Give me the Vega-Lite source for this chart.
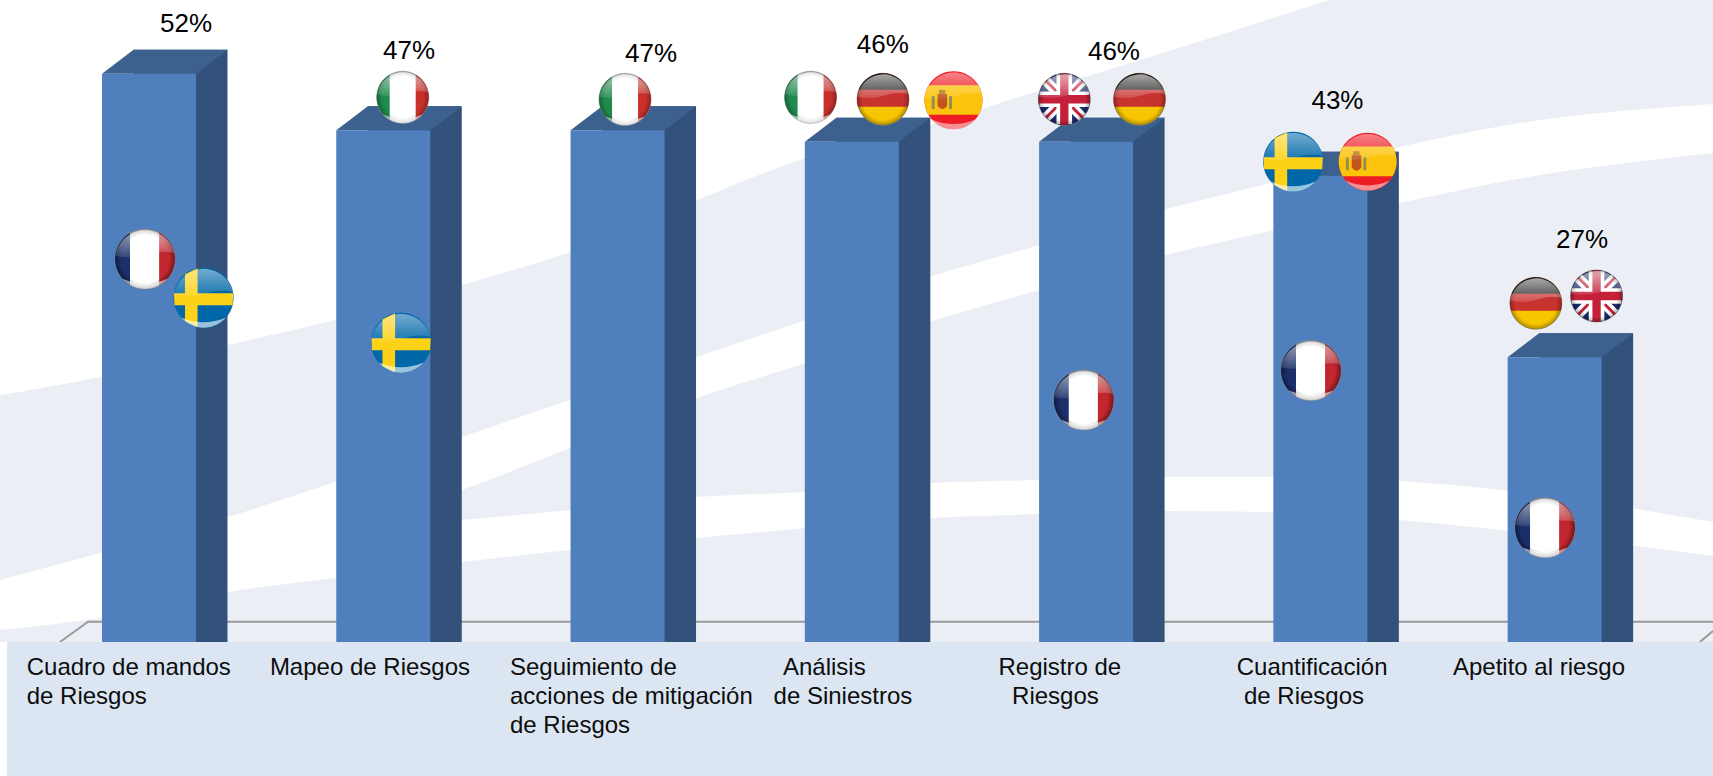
{
"$schema":"https://vega.github.io/schema/vega-lite/v6.json",
"width":1713,"height":776,"padding":0,"autosize":{"type":"none"},
"background":"#ffffff",
"config":{"view":{"stroke":null}},
"datasets":{
"panels":[{"p":"base","x":0.364,"x2":7.676,"y":1.9,"y2":58.49},{"p":"axis","x":0.394,"x2":7.676,"y":-9.91,"y2":1.9}],
"bars":[{"cat":"Cuadro de mandos de Riesgos","i":1,"pct":52},{"cat":"Mapeo de Riesgos","i":2,"pct":47},{"cat":"Seguimiento de acciones de mitigación de Riesgos","i":3,"pct":47},{"cat":"Análisis de Siniestros","i":4,"pct":46},{"cat":"Registro de Riesgos","i":5,"pct":46},{"cat":"Cuantificación de Riesgos","i":6,"pct":43},{"cat":"Apetito al riesgo","i":7,"pct":27}],
"values":[{"t":"52%","x":1.158,"y":55.67},{"t":"47%","x":2.11,"y":53.25},{"t":"47%","x":3.143,"y":53.03},{"t":"46%","x":4.132,"y":53.84},{"t":"46%","x":5.119,"y":53.2},{"t":"43%","x":6.073,"y":48.88},{"t":"27%","x":7.117,"y":36.6}],
"cats":[{"t":"Cuadro de mandos","x":0.478,"y":-1.01},{"t":"de Riesgos","x":0.478,"y":-3.57},{"t":"Mapeo de Riesgos","x":1.516,"y":-1.01},{"t":"Seguimiento de","x":2.541,"y":-1.01},{"t":"acciones de mitigación","x":2.541,"y":-3.57},{"t":"de Riesgos","x":2.541,"y":-6.13},{"t":"Análisis","x":3.706,"y":-1.01},{"t":"de Siniestros","x":3.666,"y":-3.57},{"t":"Registro de","x":4.626,"y":-1.01},{"t":"Riesgos","x":4.684,"y":-3.57},{"t":"Cuantificación","x":5.643,"y":-1.01},{"t":"de Riesgos","x":5.674,"y":-3.57},{"t":"Apetito al riesgo","x":6.566,"y":-1.01}],
"flags":[{"c":"FR","x":0.983,"y":35.66},{"c":"FR","x":4.99,"y":23.24},{"c":"FR","x":5.96,"y":25.84},{"c":"FR","x":6.959,"y":11.98},{"c":"SE","x":1.233,"y":32.25},{"c":"SE","x":2.076,"y":28.28},{"c":"SE","x":5.884,"y":44.24},{"c":"IT","x":2.083,"y":49.91},{"c":"IT","x":3.032,"y":49.73},{"c":"IT","x":3.824,"y":49.91},{"c":"DE","x":4.133,"y":49.74},{"c":"DE","x":5.228,"y":49.74},{"c":"DE","x":6.92,"y":31.76},{"c":"ES","x":4.434,"y":49.65},{"c":"ES","x":6.202,"y":44.24},{"c":"UK","x":4.907,"y":49.74},{"c":"UK","x":7.179,"y":32.4}],
"floor":[{"s":"a","x":0.62,"y":1.9},{"s":"a","x":0.74,"y":3.69},{"s":"a","x":7.676,"y":3.69},{"s":"b","x":7.62,"y":1.9},{"s":"b","x":7.676,"y":2.87}],
"bg":[
{"r":"a","x":0.364,"y":23.67,"y2":58.49},{"r":"a","x":0.791,"y":25.26,"y2":58.49},{"r":"a","x":1.337,"y":28.08,"y2":58.49},{"r":"a","x":1.794,"y":30.28,"y2":58.49},{"r":"a","x":2.336,"y":33.37,"y2":58.49},{"r":"a","x":2.797,"y":36.28,"y2":58.49},{"r":"a","x":3.339,"y":40.86,"y2":58.49},{"r":"a","x":3.779,"y":44.39,"y2":58.49},{"r":"a","x":4.334,"y":47.47,"y2":58.49},{"r":"a","x":4.632,"y":49.41,"y2":58.49},{"r":"a","x":5.341,"y":53.91,"y2":58.49},{"r":"a","x":6.037,"y":58.49,"y2":58.49},
{"r":"b","x":0.364,"y":7.37,"y2":2.96},{"r":"b","x":0.791,"y":9.75,"y2":4.02},{"r":"b","x":1.337,"y":12.92,"y2":6.31},{"r":"b","x":1.794,"y":16.0,"y2":7.54},{"r":"b","x":2.336,"y":19.97,"y2":8.95},{"r":"b","x":2.797,"y":23.23,"y2":10.01},{"r":"b","x":3.339,"y":27.02,"y2":11.07},{"r":"b","x":3.804,"y":30.28,"y2":11.95},{"r":"b","x":4.342,"y":34.16,"y2":12.83},{"r":"b","x":4.803,"y":36.89,"y2":13.18},{"r":"b","x":5.341,"y":40.07,"y2":13.45},{"r":"b","x":5.802,"y":42.45,"y2":13.36},{"r":"b","x":6.34,"y":45.53,"y2":12.65},{"r":"b","x":6.809,"y":47.5,"y2":11.68},{"r":"b","x":7.676,"y":49.32,"y2":9.48},
{"r":"c","x":1.815,"y":11.6,"y2":11.6},{"r":"c","x":2.336,"y":15.3,"y2":12.65},{"r":"c","x":2.797,"y":19.0,"y2":13.54},{"r":"c","x":3.339,"y":23.41,"y2":14.68},{"r":"c","x":3.804,"y":26.49,"y2":15.12},{"r":"c","x":4.342,"y":30.2,"y2":15.92},{"r":"c","x":4.803,"y":32.93,"y2":16.18},{"r":"c","x":5.341,"y":36.01,"y2":16.45},{"r":"c","x":5.802,"y":38.22,"y2":16.45},{"r":"c","x":6.34,"y":40.6,"y2":16.09},{"r":"c","x":6.809,"y":42.6,"y2":15.21},{"r":"c","x":7.676,"y":45.0,"y2":12.48}
]},
"layer":[
{"data":{"name":"panels"},"transform":[{"filter":"datum.p=='base'"}],"mark":{"type":"rect","color":"#ebeff5"},"encoding":{
 "x":{"field":"x","type":"quantitative","scale":{"domain":[0.364,7.676],"nice":false,"zero":false,"padding":0},"axis":null},"x2":{"field":"x2"},
 "y":{"field":"y","type":"quantitative","scale":{"domain":[-9.91,58.49],"nice":false,"zero":false},"axis":null},"y2":{"field":"y2"}}},
{"data":{"name":"bg"},"mark":{"type":"area","interpolate":"monotone"},"encoding":{
 "x":{"field":"x","type":"quantitative"},"y":{"field":"y","type":"quantitative"},"y2":{"field":"y2"},
 "color":{"field":"r","type":"nominal","legend":null,"scale":{"domain":["a","b","c"],"range":["#ffffff","#ffffff","#ebeff5"]}}}},
{"data":{"name":"floor"},"mark":{"type":"line","color":"#9a9a9a","strokeWidth":2},"encoding":{
 "x":{"field":"x","type":"quantitative"},"y":{"field":"y","type":"quantitative"},"detail":{"field":"s"}}},
{"data":{"name":"bars"},"encoding":{"x":{"field":"i","type":"quantitative"},"y":{"field":"pct","type":"quantitative"}},"layer":[
 {"mark":{"type":"bar","size":94,"color":"#32527b","xOffset":31.5,"yOffset":-24},"encoding":{"y2":{"datum":-5}}},
 {"mark":{"type":"point","filled":true,"opacity":1,"color":"#3d618f","size":40000,"shape":"M-.47 0L-.155 -.24L.785 -.24L.47 0Z"}},
 {"mark":{"type":"bar","size":94,"color":"#4f7fbc"},"encoding":{"y2":{"datum":-5}}}
]},
{"data":{"name":"panels"},"transform":[{"filter":"datum.p=='axis'"}],"mark":{"type":"rect","color":"#dce6f2"},"encoding":{"x":{"field":"x","type":"quantitative"},"x2":{"field":"x2"},"y":{"field":"y","type":"quantitative"},"y2":{"field":"y2"}}},
{"data":{"name":"values"},"mark":{"type":"text","align":"center","baseline":"alphabetic","font":"Liberation Sans","fontSize":26,"color":"#000000"},"encoding":{"x":{"field":"x","type":"quantitative"},"y":{"field":"y","type":"quantitative"},"text":{"field":"t"}}},
{"data":{"name":"cats"},"mark":{"type":"text","align":"left","baseline":"alphabetic","font":"Liberation Sans","fontSize":24,"color":"#0d0d0d"},"encoding":{"x":{"field":"x","type":"quantitative"},"y":{"field":"y","type":"quantitative"},"text":{"field":"t"}}},
{"data":{"name":"flags"},"encoding":{"x":{"field":"x","type":"quantitative"},"y":{"field":"y","type":"quantitative"}},"layer":[
 {"transform":[{"filter":"datum.c=='FR'"}],"layer":[
  {"mark":{"type":"point","filled":true,"opacity":1,"size":3600,"color":"#ffffff","stroke":"#8a8a8a","strokeWidth":0.6,"shape":"M-1 0A1 1 0 1 1 1 0A1 1 0 1 1 -1 0Z"}},
  {"mark":{"type":"point","filled":true,"opacity":1,"size":3600,"color":"#1b2f6b","shape":"M-.5 -.866A1 1 0 0 0 -.5 .866Z"}},
  {"mark":{"type":"point","filled":true,"opacity":1,"size":3600,"color":"#c2262e","shape":"M.47 -.883A1 1 0 0 1 .47 .883Z"}},
  {"mark":{"type":"point","filled":true,"opacity":1,"size":3600,"fill":{"gradient":"radial","stops":[{"offset":0,"color":"rgba(0,0,0,0)"},{"offset":0.8,"color":"rgba(0,0,0,0)"},{"offset":1,"color":"rgba(0,0,0,0.4)"}]},"shape":"M-1 0A1 1 0 1 1 1 0A1 1 0 1 1 -1 0Z"}},
  {"mark":{"type":"point","filled":true,"opacity":1,"size":3600,"fill":{"gradient":"linear","x1":0,"y1":0,"x2":0,"y2":1,"stops":[{"offset":0,"color":"rgba(255,255,255,0.6)"},{"offset":1,"color":"rgba(255,255,255,0.1)"}]},"shape":"M-.98 -.1A1 1 0 0 1 .98 -.2Q.5 -.3 .1 -.15Q-.4 .02 -.98 -.1Z"}},
  {"mark":{"type":"point","filled":true,"opacity":0.55,"size":3600,"color":"#ffffff","shape":"M-.75 .66A1 1 0 0 0 .75 .66Q0 .98 -.75 .66Z"}}
 ]},
 {"transform":[{"filter":"datum.c=='IT'"}],"layer":[
  {"mark":{"type":"point","filled":true,"opacity":1,"size":2704,"color":"#ffffff","stroke":"#8a8a8a","strokeWidth":0.6,"shape":"M-1 0A1 1 0 1 1 1 0A1 1 0 1 1 -1 0Z"}},
  {"mark":{"type":"point","filled":true,"opacity":1,"size":2704,"color":"#1f8a4c","shape":"M-.5 -.866A1 1 0 0 0 -.5 .866Z"}},
  {"mark":{"type":"point","filled":true,"opacity":1,"size":2704,"color":"#c9302c","shape":"M.5 -.866A1 1 0 0 1 .5 .866Z"}},
  {"mark":{"type":"point","filled":true,"opacity":1,"size":2704,"fill":{"gradient":"radial","stops":[{"offset":0,"color":"rgba(0,0,0,0)"},{"offset":0.8,"color":"rgba(0,0,0,0)"},{"offset":1,"color":"rgba(0,0,0,0.3)"}]},"shape":"M-1 0A1 1 0 1 1 1 0A1 1 0 1 1 -1 0Z"}},
  {"mark":{"type":"point","filled":true,"opacity":1,"size":2704,"fill":{"gradient":"linear","x1":0,"y1":0,"x2":0,"y2":1,"stops":[{"offset":0,"color":"rgba(255,255,255,0.6)"},{"offset":1,"color":"rgba(255,255,255,0.1)"}]},"shape":"M-.98 -.1A1 1 0 0 1 .98 -.2Q.5 -.3 .1 -.15Q-.4 .02 -.98 -.1Z"}},
  {"mark":{"type":"point","filled":true,"opacity":0.55,"size":2704,"color":"#ffffff","shape":"M-.75 .66A1 1 0 0 0 .75 .66Q0 .98 -.75 .66Z"}}
 ]},
 {"transform":[{"filter":"datum.c=='DE'"}],"layer":[
  {"mark":{"type":"point","filled":true,"opacity":1,"size":2704,"color":"#f7c600","stroke":"#8a8a8a","strokeWidth":0.6,"shape":"M-1 0A1 1 0 1 1 1 0A1 1 0 1 1 -1 0Z"}},
  {"mark":{"type":"point","filled":true,"opacity":1,"size":2704,"color":"#c8322f","shape":"M-.957 .29A1 1 0 1 1 .957 .29Z"}},
  {"mark":{"type":"point","filled":true,"opacity":1,"size":2704,"color":"#1c1c1c","shape":"M-.929 -.37A1 1 0 0 1 .929 -.37Z"}},
  {"mark":{"type":"point","filled":true,"opacity":1,"size":2704,"fill":{"gradient":"radial","stops":[{"offset":0,"color":"rgba(0,0,0,0)"},{"offset":0.8,"color":"rgba(0,0,0,0)"},{"offset":1,"color":"rgba(0,0,0,0.3)"}]},"shape":"M-1 0A1 1 0 1 1 1 0A1 1 0 1 1 -1 0Z"}},
  {"mark":{"type":"point","filled":true,"opacity":1,"size":2704,"fill":{"gradient":"linear","x1":0,"y1":0,"x2":0,"y2":1,"stops":[{"offset":0,"color":"rgba(255,255,255,0.62)"},{"offset":1,"color":"rgba(255,255,255,0.15)"}]},"shape":"M-.98 -.1A1 1 0 0 1 .98 -.2Q.5 -.3 .1 -.15Q-.4 .02 -.98 -.1Z"}}
 ]},
 {"transform":[{"filter":"datum.c=='UK'"}],"layer":[
  {"mark":{"type":"point","filled":true,"opacity":1,"size":2704,"color":"#1a2a6c","stroke":"#8a8a8a","strokeWidth":0.6,"shape":"M-1 0A1 1 0 1 1 1 0A1 1 0 1 1 -1 0Z"}},
  {"mark":{"type":"point","filled":true,"opacity":1,"size":2704,"color":"#ffffff","shape":"M-.83 -.56L-.56 -.83L.83 .56L.56 .83ZM.56 -.83L.83 -.56L-.56 .83L-.83 .56Z"}},
  {"mark":{"type":"point","filled":true,"opacity":1,"size":2704,"color":"#c4203a","shape":"M-.74 -.66L-.66 -.74L.74 .66L.66 .74ZM.66 -.74L.74 -.66L-.66 .74L-.74 .66Z"}},
  {"mark":{"type":"point","filled":true,"opacity":1,"size":2704,"color":"#ffffff","shape":"M-.3 -.954H.3V.954H-.3ZM-.954 -.3H.954V.3H-.954Z"}},
  {"mark":{"type":"point","filled":true,"opacity":1,"size":2704,"color":"#c4203a","shape":"M-.16 -.987H.16V.987H-.16ZM-.987 -.16H.987V.16H-.987Z"}},
  {"mark":{"type":"point","filled":true,"opacity":1,"size":2704,"fill":{"gradient":"radial","stops":[{"offset":0,"color":"rgba(0,0,0,0)"},{"offset":0.8,"color":"rgba(0,0,0,0)"},{"offset":1,"color":"rgba(0,0,0,0.3)"}]},"shape":"M-1 0A1 1 0 1 1 1 0A1 1 0 1 1 -1 0Z"}},
  {"mark":{"type":"point","filled":true,"opacity":1,"size":2704,"fill":{"gradient":"linear","x1":0,"y1":0,"x2":0,"y2":1,"stops":[{"offset":0,"color":"rgba(255,255,255,0.6)"},{"offset":1,"color":"rgba(255,255,255,0.12)"}]},"shape":"M-.98 -.1A1 1 0 0 1 .98 -.2Q.5 -.3 .1 -.15Q-.4 .02 -.98 -.1Z"}}
 ]},
 {"transform":[{"filter":"datum.c=='ES'"}],"layer":[
  {"mark":{"type":"point","filled":true,"opacity":1,"size":3364,"color":"#ee1c25","shape":"M-1 0A1 1 0 1 1 1 0A1 1 0 1 1 -1 0Z"}},
  {"mark":{"type":"point","filled":true,"opacity":1,"size":3364,"color":"#fcc30b","shape":"M-.854 -.52A1 1 0 0 0 -.866 .5L.866 .5A1 1 0 0 0 .854 -.52Z"}},
  {"mark":{"type":"point","filled":true,"opacity":1,"size":3364,"color":"#c1531c","shape":"M-.55 -.22H-.22V.2Q-.385 .42 -.55 .2Z"}},
  {"mark":{"type":"point","filled":true,"opacity":1,"size":3364,"color":"#b5791a","shape":"M-.5 -.36H-.28V-.22H-.5Z"}},
  {"mark":{"type":"point","filled":true,"opacity":1,"size":3364,"color":"#8c8f55","shape":"M-.75 -.15H-.65V.3H-.75ZM-.15 -.15H-.05V.3H-.15Z"}},
  {"mark":{"type":"point","filled":true,"opacity":1,"size":3364,"fill":{"gradient":"linear","x1":0,"y1":0,"x2":0,"y2":1,"stops":[{"offset":0,"color":"rgba(255,255,255,0.45)"},{"offset":1,"color":"rgba(255,255,255,0.08)"}]},"shape":"M-.98 -.1A1 1 0 0 1 .98 -.2Q.5 -.3 .1 -.15Q-.4 .02 -.98 -.1Z"}},
  {"mark":{"type":"point","filled":true,"opacity":0.5,"size":3364,"color":"#ffffff","shape":"M-.75 .66A1 1 0 0 0 .75 .66Q0 .98 -.75 .66Z"}}
 ]},
 {"transform":[{"filter":"datum.c=='SE'"}],"layer":[
  {"mark":{"type":"point","filled":true,"opacity":1,"size":3600,"color":"#0067a8","shape":"M-1 0A1 1 0 1 1 1 0A1 1 0 1 1 -1 0Z"}},
  {"mark":{"type":"point","filled":true,"opacity":1,"size":3600,"color":"#fdd116","shape":"M-.62 -.785L-.2 -.98L-.2 .98L-.62 .785Z"}},
  {"mark":{"type":"point","filled":true,"opacity":1,"size":3600,"color":"#fdd116","shape":"M-.989 -.15H.989L.968 .25H-.968Z"}},
  {"mark":{"type":"point","filled":true,"opacity":1,"size":3600,"fill":{"gradient":"linear","x1":0,"y1":0,"x2":0,"y2":1,"stops":[{"offset":0,"color":"rgba(255,255,255,0.45)"},{"offset":1,"color":"rgba(255,255,255,0.1)"}]},"shape":"M-.98 -.1A1 1 0 0 1 .98 -.2Q.5 -.3 .1 -.15Q-.4 .02 -.98 -.1Z"}},
  {"mark":{"type":"point","filled":true,"opacity":0.6,"size":3600,"color":"#ffffff","shape":"M-.75 .66A1 1 0 0 0 .75 .66Q0 .98 -.75 .66Z"}}
 ]}
]}
]
}
